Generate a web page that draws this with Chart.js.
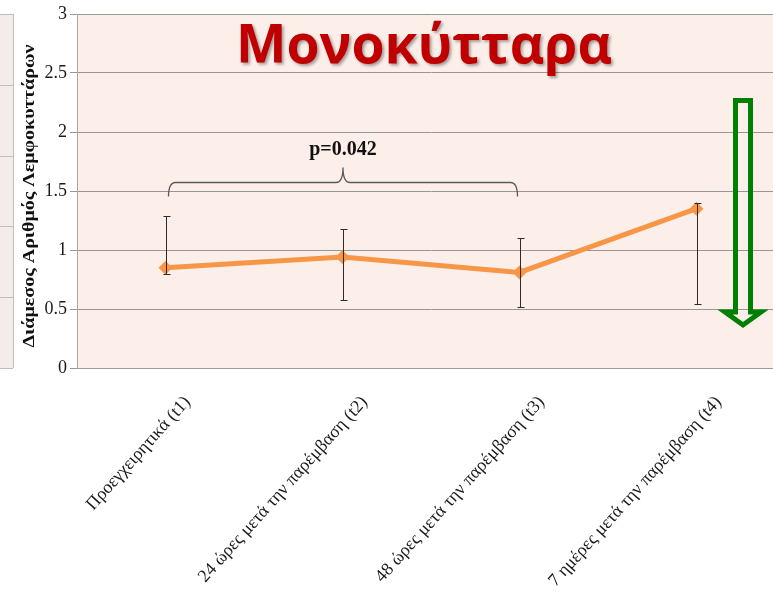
<!DOCTYPE html>
<html>
<head>
<meta charset="utf-8">
<script src="https://cdn.jsdelivr.net/npm/chart.js@4"></script>
<style>
  html, body { margin: 0; padding: 0; background: #fff; overflow: hidden; }
  canvas { display: block; }
</style>
</head>
<body>
<canvas id="monocytes_chart" width="792" height="598"></canvas>
<script>
// data
var categories = [
    "Προεγχειρητικά (t1)",
    "24 ώρες μετά την παρέμβαση (t2)",
    "48 ώρες μετά την παρέμβαση (t3)",
    "7 ημέρες μετά την παρέμβαση (t4)"
];
var medianValues = [0.85, 0.94, 0.81, 1.35];
var errorHigh = [1.29, 1.175, 1.10, 1.40];
var errorLow = [0.80, 0.58, 0.52, 0.54];
var yTickValues = [0, 0.5, 1, 1.5, 2, 2.5, 3];
var yTickLabels = ["0", "0.5", "1", "1.5", "2", "2.5", "3"];
var bracketFrom = 0, bracketTo = 2, bracketLevel = 1.575;
var pValueText = "p=0.042";
var titleText = "Μονοκύτταρα";
var yTitleText = "Διάμεσος Αριθμός Λεμφοκυττάρων";

const chartElement = document.getElementById("monocytes_chart");

const backgroundPlugin = {
    id: "background",
    beforeDraw(chart) {
        var ctx = chart.ctx;
        var area = chart.chartArea;
        ctx.save();
        // leftover panel of a neighbouring chart on the left edge
        ctx.fillStyle = "#f4ebeb";
        ctx.fillRect(0, area.top, 13, area.bottom - area.top);
        ctx.strokeStyle = "#c4bcbc";
        ctx.lineWidth = 1;
        ctx.beginPath();
        ctx.moveTo(13.5, area.top);
        ctx.lineTo(13.5, area.bottom);
        for (var i = 0; i < 6; i++) {
            var y = Math.round(area.top + i * (area.bottom - area.top) / 5) + 0.5;
            ctx.moveTo(0, y);
            ctx.lineTo(13, y);
        }
        ctx.stroke();
        // plot area
        ctx.fillStyle = "#fcefea";
        ctx.fillRect(area.left, area.top, area.right - area.left, area.bottom - area.top);
        ctx.restore();
    },
    afterDraw(chart) {
        // y axis title, squeezed to the length it has in the picture
        var ctx = chart.ctx;
        var area = chart.chartArea;
        ctx.save();
        ctx.font = "bold 16px 'Liberation Serif'";
        var w = ctx.measureText(yTitleText).width;
        ctx.translate(30, (area.top + area.bottom) / 2 + 5);
        ctx.rotate(-Math.PI / 2);
        ctx.scale(303 / w, 1);
        ctx.fillStyle = "#111";
        ctx.textAlign = "center";
        ctx.textBaseline = "middle";
        ctx.fillText(yTitleText, 0, 0);
        ctx.restore();
    }
};

const errorBarPlugin = {
    id: "errorBars",
    afterDatasetsDraw(chart) {
        var ctx = chart.ctx;
        var xs = chart.scales.x;
        var ys = chart.scales.y;
        ctx.save();
        ctx.strokeStyle = "#2b2b2b";
        ctx.lineWidth = 1;
        ctx.beginPath();
        for (var i = 0; i < categories.length; i++) {
            var x = Math.round(xs.getPixelForValue(i)) + 0.5;
            var yTop = Math.round(ys.getPixelForValue(errorHigh[i])) + 0.5;
            var yBot = Math.round(ys.getPixelForValue(errorLow[i])) + 0.5;
            ctx.moveTo(x, yTop);
            ctx.lineTo(x, yBot);
            ctx.moveTo(x - 3, yTop);
            ctx.lineTo(x + 4, yTop);
            ctx.moveTo(x - 3, yBot);
            ctx.lineTo(x + 4, yBot);
        }
        ctx.stroke();
        ctx.restore();
    }
};

const annotationPlugin = {
    id: "annotations",
    afterDraw(chart) {
        var ctx = chart.ctx;
        var xs = chart.scales.x;
        var ys = chart.scales.y;
        ctx.save();

        // curly brace between t1 and t3
        var x0 = xs.getPixelForValue(bracketFrom) + 3;
        var x1 = xs.getPixelForValue(bracketTo) - 2;
        var xm = (x0 + x1) / 2;
        var yb = Math.round(ys.getPixelForValue(bracketLevel)) + 0.5;
        ctx.strokeStyle = "#5a5a5a";
        ctx.lineWidth = 1.3;
        ctx.beginPath();
        ctx.moveTo(x0, yb + 14);
        ctx.quadraticCurveTo(x0, yb, x0 + 7, yb);
        ctx.lineTo(xm - 7, yb);
        ctx.quadraticCurveTo(xm, yb, xm, yb - 15);
        ctx.quadraticCurveTo(xm, yb, xm + 7, yb);
        ctx.lineTo(x1 - 7, yb);
        ctx.quadraticCurveTo(x1, yb, x1, yb + 14);
        ctx.stroke();

        ctx.fillStyle = "#111";
        ctx.font = "bold 20px 'Liberation Serif'";
        ctx.textAlign = "center";
        ctx.textBaseline = "alphabetic";
        ctx.fillText(pValueText, xm, yb - 28);

        // hollow green arrow pointing down
        ctx.strokeStyle = "#008000";
        ctx.lineWidth = 5;
        ctx.lineJoin = "miter";
        ctx.beginPath();
        ctx.moveTo(735.5, 100.5);
        ctx.lineTo(750.5, 100.5);
        ctx.lineTo(750.5, 312);
        ctx.lineTo(761, 312);
        ctx.lineTo(743, 325);
        ctx.lineTo(725, 312);
        ctx.lineTo(735.5, 312);
        ctx.closePath();
        ctx.stroke();

        // red title with soft shadow
        ctx.font = "bold 54px 'Open Sans'";
        var w = ctx.measureText(titleText).width;
        ctx.translate(424, 63);
        ctx.scale(376 / w, 1);
        ctx.shadowColor = "rgba(0,0,0,0.35)";
        ctx.shadowOffsetX = 2;
        ctx.shadowOffsetY = 2;
        ctx.shadowBlur = 3;
        ctx.fillStyle = "#c00000";
        ctx.textAlign = "center";
        ctx.fillText(titleText, 0, 0);
        ctx.restore();
    }
};

const monocyteChart = new Chart(chartElement, {
    type: "line",
    data: {
        labels: categories,
        datasets: [{
            label: "Μονοκύτταρα",
            data: medianValues,
            borderColor: "#f79646",
            backgroundColor: "#f79646",
            borderWidth: 5,
            pointStyle: "rectRot",
            pointRadius: 7,
            pointBorderWidth: 0,
            tension: 0
        }]
    },
    options: {
        responsive: false,
        animation: false,
        layout: {
            padding: { left: 14, top: 14, right: 0, bottom: 0 }
        },
        scales: {
            x: {
                offset: true,
                grid: { display: false, drawTicks: false },
                border: { display: true, color: "#9a9a9a" },
                ticks: {
                    minRotation: 48,
                    maxRotation: 48,
                    padding: 24,
                    labelOffset: 22,
                    color: "#1a1a1a",
                    font: { family: "'Liberation Serif'", size: 18 }
                },
                afterFit: function (scale) {
                    scale.height = 230;
                    scale.paddingLeft = 0;
                    scale.paddingRight = 0;
                }
            },
            y: {
                min: 0,
                max: 3,
                afterBuildTicks: function (scale) {
                    scale.ticks = yTickValues.map(function (v) { return { value: v }; });
                },
                grid: { color: "#979797", tickLength: 7 },
                border: { display: true, color: "#a8a8a8" },
                ticks: {
                    padding: 3,
                    color: "#1a1a1a",
                    font: { family: "'Liberation Serif'", size: 18 },
                    callback: function (value) {
                        return yTickLabels[yTickValues.indexOf(value)];
                    }
                },
                afterFit: function (scale) {
                    scale.width = 63;
                }
            }
        },
        plugins: {
            legend: { display: false },
            tooltip: { enabled: false }
        }
    },
    plugins: [backgroundPlugin, errorBarPlugin, annotationPlugin]
});
</script>
</body>
</html>
